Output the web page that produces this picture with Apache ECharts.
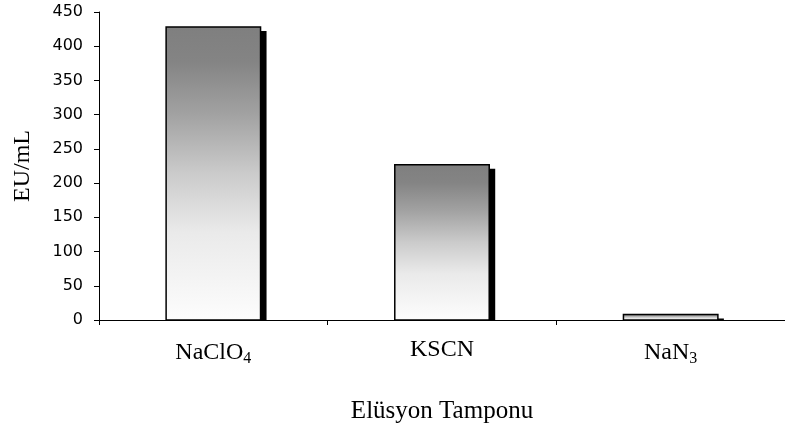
<!DOCTYPE html>
<html>
<head>
<meta charset="utf-8">
<script src="https://cdn.jsdelivr.net/npm/echarts@6/dist/echarts.min.js"></script>
<style>
  html, body { margin: 0; padding: 0; background: #fff; }
  #chart { width: 785px; height: 429px; }
</style>
</head>
<body>
<div id="chart"></div>
<script>
// Elution buffers and measured activity (EU/mL)
const categories = ['NaClO4', 'KSCN', 'NaN3'];
const categoryLabels = ['NaClO{sub|4}', 'KSCN', 'NaN{sub|3}'];
const values = [428, 227, 8];
const yTicks = { min: 0, max: 450, interval: 50 };

const chart = echarts.init(document.getElementById('chart'), null, { renderer: 'canvas' });

const barFill = new echarts.graphic.LinearGradient(0, 0, 0, 1, [
  { offset: 0, color: '#7f7f7f' },
  { offset: 0.12, color: '#848484' },
  { offset: 0.3, color: '#a2a2a2' },
  { offset: 0.5, color: '#cbcbcb' },
  { offset: 0.7, color: '#eaeaea' },
  { offset: 1, color: '#fdfdfd' }
]);

// Bar with a solid drop shadow that stops at the baseline
function renderBar(params, api) {
  const i = api.value(0);
  const v = api.value(1);
  const base = api.coord([i, 0]);
  const top = api.coord([i, v]);
  const bw = api.size([1, 0])[0] * 0.413;
  const x = base[0] - bw / 2;
  const h = base[1] - top[1];
  return {
    type: 'group',
    children: [
      {
        type: 'rect',
        shape: { x: x + 6, y: top[1] + 4, width: bw, height: Math.max(0, h - 4) },
        style: { fill: '#000' }
      },
      {
        type: 'rect',
        shape: { x: x, y: top[1], width: bw, height: h },
        style: { fill: barFill, stroke: '#000', lineWidth: 1.5 }
      }
    ]
  };
}

chart.setOption({
  animation: false,
  backgroundColor: '#fff',
  grid: { left: 99, top: 12, width: 690, height: 310, containLabel: false },
  xAxis: {
    type: 'category',
    data: categories,
    boundaryGap: true,
    name: 'Elüsyon Tamponu',
    nameLocation: 'middle',
    nameGap: 79,
    nameTextStyle: { fontFamily: 'Liberation Serif', fontSize: 25, color: '#000' },
    axisLine: { lineStyle: { color: '#000', width: 1 } },
    axisTick: { show: true, length: 5, lineStyle: { color: '#000' } },
    axisLabel: {
      margin: 18,
      fontFamily: 'Liberation Serif',
      fontSize: 24,
      color: '#000',
      formatter: (val, idx) => categoryLabels[idx],
      rich: {
        sub: { fontFamily: 'Liberation Serif', fontSize: 16, color: '#000', padding: [13, 0, 0, 0] }
      }
    },
    splitLine: { show: false }
  },
  yAxis: {
    type: 'value',
    min: yTicks.min,
    max: yTicks.max,
    interval: yTicks.interval,
    name: 'EU/mL',
    nameLocation: 'middle',
    nameGap: 64,
    nameRotate: 90,
    nameTextStyle: { fontFamily: 'Liberation Serif', fontSize: 24, color: '#000' },
    axisLine: { show: true, lineStyle: { color: '#000', width: 1 } },
    axisTick: { show: true, length: 5, lineStyle: { color: '#000' } },
    axisLabel: { margin: 16, fontFamily: 'DejaVu Sans', fontSize: 16, color: '#000' },
    splitLine: { show: false }
  },
  series: [{
    type: 'custom',
    renderItem: renderBar,
    data: values.map((v, i) => [i, v]),
    encode: { x: 0, y: 1 },
    z: 1
  }]
});
</script>
</body>
</html>
